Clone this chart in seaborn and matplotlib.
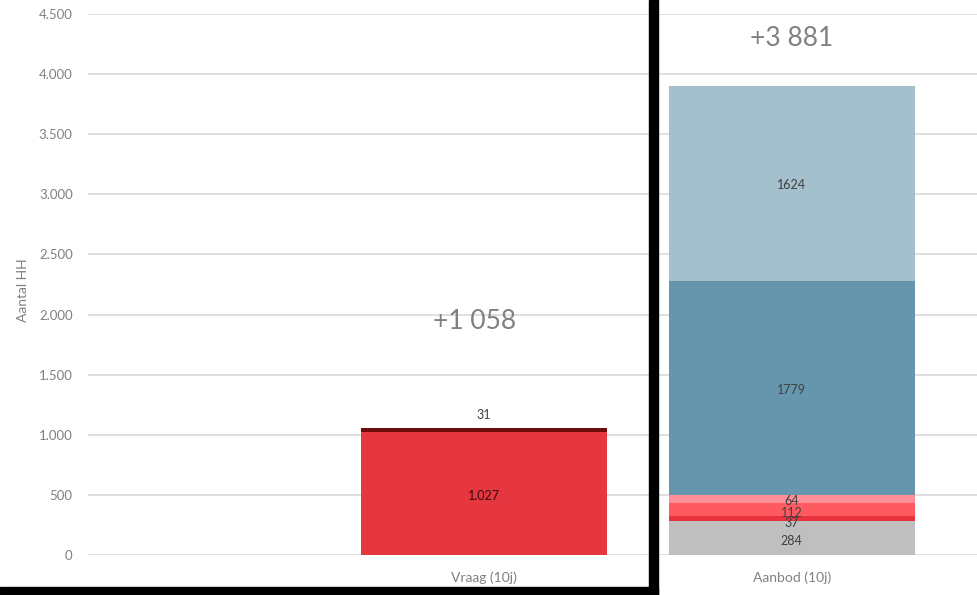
import matplotlib
matplotlib.use("Agg")
import matplotlib.pyplot as plt
import seaborn as sns
import pandas as pd
import numpy as np
from matplotlib.patches import Rectangle

# ---- data ----
categories = ["Vraag (10j)", "Aanbod (10j)"]
vraag_values = [1027, 31]
vraag_labels = ["1.027", "31"]
vraag_colors = ["#e63640", "#6e0b0b"]
aanbod_values = [284, 37, 112, 64, 1779, 1624]
aanbod_labels = ["284", "37", "112", "64", "1779", "1624"]
aanbod_colors = ["#bfbfbf", "#e8333d", "#ff5a61", "#ff9097", "#6596ad", "#a3c0cc"]
total_labels = ["+1 058", "+3 881"]
yticks = [0, 500, 1000, 1500, 2000, 2500, 3000, 3500, 4000, 4500]
ytick_labels = ["0", "500", "1.000", "1.500", "2.000", "2.500", "3.000", "3.500", "4.000", "4.500"]

sns.set_style("white")
plt.rcParams["font.family"] = ["Lato", "DejaVu Sans"]

W, H = 978, 595
fig = plt.figure(figsize=(W / 100, H / 100), dpi=100)
ax = fig.add_axes([88 / W, 40 / H, (978 - 88) / W, 541 / H])


def draw_stack(cat, values, colors):
    cum = np.cumsum(values)
    # draw cumulative bars from the tallest down so they stack visually
    for i in range(len(values) - 1, -1, -1):
        df = pd.DataFrame({"cat": [cat], "val": [cum[i]]})
        sns.barplot(data=df, x="cat", y="val", order=categories, color=colors[i],
                    saturation=1, width=0.8, ax=ax, linewidth=0, zorder=2)
    return cum


cum_v = draw_stack(categories[0], vraag_values, vraag_colors)
cum_a = draw_stack(categories[1], aanbod_values, aanbod_colors)

# segment labels
ax.text(0, cum_v[0] / 2 - 20, vraag_labels[0], ha="center", va="center", fontsize=9,
        color="#3a0b0b", zorder=5)
ax.text(0, cum_v[1] + 105, vraag_labels[1], ha="center", va="center", fontsize=9,
        color="#404040", zorder=5)
starts = np.concatenate([[0], cum_a[:-1]])
offs = [-25, -40, -25, -15, -10, -10]
for s, v, lab, o in zip(starts, aanbod_values, aanbod_labels, offs):
    ax.text(1, s + v / 2 + o, lab, ha="center", va="center", fontsize=9,
            color="#404040", zorder=5)

# total labels
ax.text(-0.03, 1940, total_labels[0], ha="center", va="center", fontsize=19,
        color="#808080", zorder=5)
ax.text(1.0, 4300, total_labels[1], ha="center", va="center", fontsize=19,
        color="#808080", zorder=5)

ax.set_xlim(-1.287, 1.605)
ax.set_ylim(0, 4500)
ax.set_yticks(yticks)
ax.set_yticklabels(ytick_labels)
ax.yaxis.grid(True, color="#d9d9d9", linewidth=1.2, zorder=0)
ax.set_axisbelow(True)
for sp in ax.spines.values():
    sp.set_visible(False)
ax.tick_params(axis="y", length=0, pad=11, labelsize=9.5, labelcolor="#808080")
ax.tick_params(axis="x", length=0, pad=12, labelsize=10, labelcolor="#808080")
ax.set_xlabel("")
ax.set_ylabel("Aantal HH", fontsize=10, color="#808080", labelpad=3)
ax.yaxis.set_label_coords(-0.066, 0.49)

# black frame pieces
fig.patches.append(Rectangle((649 / W, 0), 9 / W, 1, transform=fig.transFigure,
                             color="black", zorder=10))
fig.patches.append(Rectangle((0, 0), 658 / W, 8 / H, transform=fig.transFigure,
                             color="black", zorder=10))

fig.savefig("out.png", dpi=100, facecolor="white")
